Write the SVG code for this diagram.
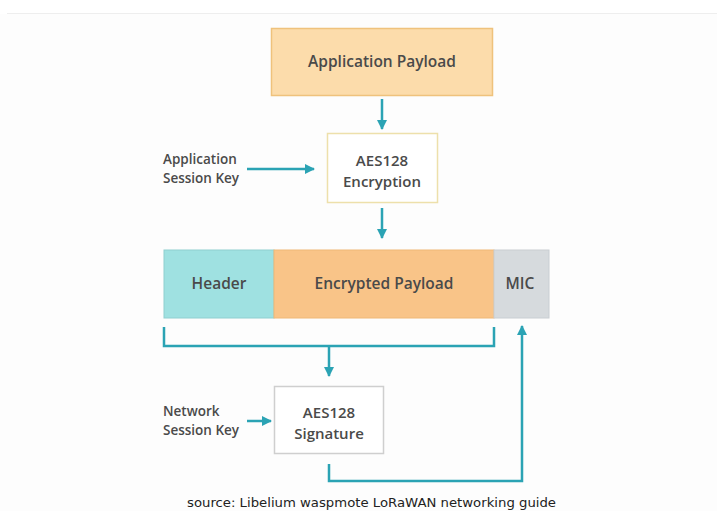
<svg xmlns="http://www.w3.org/2000/svg" width="717" height="511" viewBox="0 0 717 511">
<defs>
<style>
.lbl{font-family:"Open Sans","Noto Sans","DejaVu Sans",sans-serif;font-weight:600;fill:#4a4a4a;}
.c{text-anchor:middle;}
.conn{stroke:#2ba3b4;stroke-width:2.5;fill:none;}
</style>
<marker id="ah" viewBox="0 0 10 10" refX="9" refY="5" markerWidth="4" markerHeight="4" orient="auto" markerUnits="strokeWidth">
<path d="M0,0 L10,5 L0,10 z" fill="#2ba3b4"/>
</marker>
</defs>
<rect width="717" height="511" fill="#ffffff"/>
<rect x="0" y="14" width="717" height="497" fill="#fdfdfd"/>
<line x1="7" y1="13.5" x2="717" y2="13.5" stroke="#eeeeee" stroke-width="1"/>

<g id="app-payload">
<rect x="271.5" y="28.5" width="221" height="67" fill="#fcdcab" stroke="#efc27c" stroke-width="1.5"/>
<text class="lbl c" x="382" y="66.5" font-size="15.5">Application Payload</text>
</g>

<g id="aes-enc">
<rect x="327.5" y="133.5" width="110" height="69" fill="#ffffff" stroke="#ede0ab" stroke-width="1.5"/>
<text class="lbl c" x="382" y="165.5" font-size="15">AES128</text>
<text class="lbl c" x="382" y="187" font-size="15">Encryption</text>
</g>

<g id="app-key">
<text class="lbl" x="163" y="164" font-size="13.5">Application</text>
<text class="lbl" x="163" y="183" font-size="13.5">Session Key</text>
</g>

<g id="header">
<rect x="164" y="250" width="110" height="68" fill="#9fe1e1" stroke="#8fcfd0" stroke-width="1"/>
<text class="lbl c" x="219" y="289" font-size="15.5">Header</text>
</g>

<g id="enc-payload">
<rect x="274" y="250" width="220" height="68" fill="#f9c488" stroke="#efb877" stroke-width="1"/>
<text class="lbl c" x="384" y="289" font-size="15.5">Encrypted Payload</text>
</g>

<g id="mic">
<rect x="494" y="250" width="55" height="68" fill="#d6dadd" stroke="#c9ced2" stroke-width="1"/>
<text class="lbl c" x="520" y="289" font-size="15.5">MIC</text>
</g>

<g id="aes-sig">
<rect x="274.5" y="386.5" width="109" height="67" fill="#ffffff" stroke="#cfcfcf" stroke-width="1.5"/>
<text class="lbl c" x="329" y="417.5" font-size="15">AES128</text>
<text class="lbl c" x="329" y="439" font-size="15">Signature</text>
</g>

<g id="net-key">
<text class="lbl" x="163" y="415.5" font-size="13.5">Network</text>
<text class="lbl" x="163" y="434.5" font-size="13.5">Session Key</text>
</g>

<g id="connectors">
<line class="conn" x1="382" y1="99" x2="382" y2="129" marker-end="url(#ah)"/>
<line class="conn" x1="247" y1="169" x2="314" y2="169" marker-end="url(#ah)"/>
<line class="conn" x1="382" y1="208" x2="382" y2="238" marker-end="url(#ah)"/>
<polyline class="conn" points="164,327 164,346 494,346 494,327"/>
<line class="conn" x1="329" y1="346" x2="329" y2="376" marker-end="url(#ah)"/>
<line class="conn" x1="247" y1="421" x2="271" y2="421" marker-end="url(#ah)"/>
<polyline class="conn" points="329,464 329,481 522,481 522,326" marker-end="url(#ah)"/>
</g>

<text x="187" y="507" font-family="DejaVu Sans, Verdana, sans-serif" font-size="12" fill="#222222" textLength="369" lengthAdjust="spacingAndGlyphs">source: Libelium waspmote LoRaWAN networking guide</text>
</svg>
